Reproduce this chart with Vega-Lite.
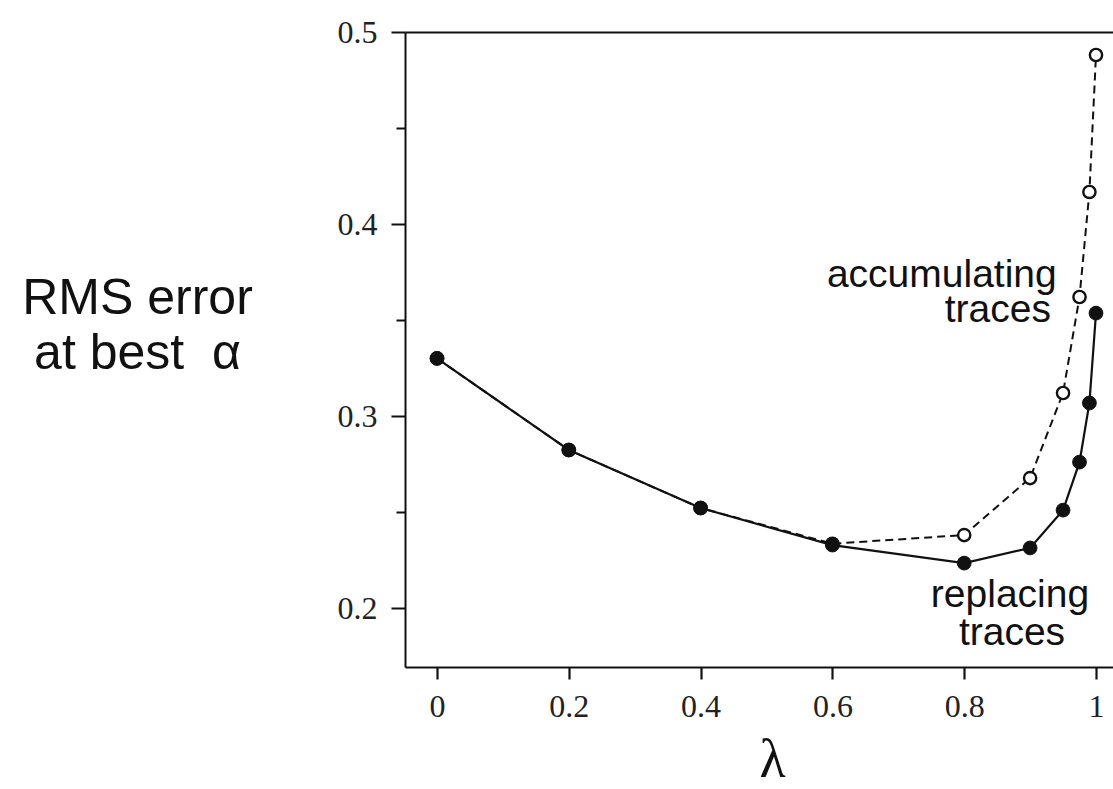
{
  "$schema": "https://vega.github.io/schema/vega-lite/v6.json",
  "width": 708,
  "height": 635,
  "autosize": {"type": "none"},
  "padding": {"left": 405, "top": 32, "right": 0, "bottom": 122},
  "background": "white",
  "config": {
    "view": {"stroke": null},
    "axis": {
      "grid": false,
      "domainColor": "#111",
      "domainWidth": 2,
      "tickColor": "#111",
      "tickWidth": 2,
      "labelColor": "#222",
      "labelFont": "Liberation Serif",
      "labelFontSize": 32,
      "labelFlush": false,
      "labelOverlap": false
    },
    "axisBottom": {"ticks": true, "tickSize": 12, "tickWidth": 2.2, "tickColor": "#111", "tickOpacity": 1}
  },
  "datasets": {
    "series": [
      {"trace": "accumulating", "lambda": 0, "rms": 0.33},
      {"trace": "accumulating", "lambda": 0.2, "rms": 0.2823},
      {"trace": "accumulating", "lambda": 0.4, "rms": 0.2521},
      {"trace": "accumulating", "lambda": 0.6, "rms": 0.2335},
      {"trace": "accumulating", "lambda": 0.8, "rms": 0.238},
      {"trace": "accumulating", "lambda": 0.9, "rms": 0.2677},
      {"trace": "accumulating", "lambda": 0.95, "rms": 0.312},
      {"trace": "accumulating", "lambda": 0.975, "rms": 0.362},
      {"trace": "accumulating", "lambda": 0.99, "rms": 0.4167},
      {"trace": "accumulating", "lambda": 1.0, "rms": 0.488},
      {"trace": "replacing", "lambda": 0, "rms": 0.33},
      {"trace": "replacing", "lambda": 0.2, "rms": 0.2823},
      {"trace": "replacing", "lambda": 0.4, "rms": 0.2521},
      {"trace": "replacing", "lambda": 0.6, "rms": 0.2328},
      {"trace": "replacing", "lambda": 0.8, "rms": 0.2234},
      {"trace": "replacing", "lambda": 0.9, "rms": 0.2313},
      {"trace": "replacing", "lambda": 0.95, "rms": 0.251},
      {"trace": "replacing", "lambda": 0.975, "rms": 0.276},
      {"trace": "replacing", "lambda": 0.99, "rms": 0.3068},
      {"trace": "replacing", "lambda": 1.0, "rms": 0.3536}
    ],
    "labels": [
      {"text": "accumulating", "lambda": 0.766, "rms": 0.3672},
      {"text": "traces", "lambda": 0.851, "rms": 0.349},
      {"text": "replacing", "lambda": 0.8695, "rms": 0.2005},
      {"text": "traces", "lambda": 0.8725, "rms": 0.1807}
    ]
  },
  "layer": [
    {
      "encoding": {
        "x": {
          "field": "lambda",
          "type": "quantitative",
          "scale": {"domain": [-0.0486, 1.0258], "nice": false, "zero": false},
          "axis": null
        },
        "y": {
          "field": "rms",
          "type": "quantitative",
          "scale": {"domain": [0.1693, 0.5], "nice": false, "zero": false},
          "axis": null
        }
      },
      "layer": [
        {
          "data": {"name": "series"},
          "transform": [{"filter": "datum.trace === 'accumulating'"}],
          "mark": {"type": "line", "color": "#111", "strokeWidth": 2, "strokeDash": [8, 5]}
        },
        {
          "data": {"name": "series"},
          "transform": [{"filter": "datum.trace === 'accumulating'"}],
          "mark": {"type": "point", "shape": "circle", "filled": true, "fill": "white", "stroke": "#111", "strokeWidth": 2.4, "size": 150, "opacity": 1}
        },
        {
          "data": {"name": "series"},
          "transform": [{"filter": "datum.trace === 'replacing'"}],
          "mark": {"type": "line", "color": "#111", "strokeWidth": 2.2}
        },
        {
          "data": {"name": "series"},
          "transform": [{"filter": "datum.trace === 'replacing'"}],
          "mark": {"type": "point", "shape": "circle", "filled": true, "fill": "#111", "stroke": "#111", "strokeWidth": 1, "size": 190, "opacity": 1}
        },
        {
          "data": {"name": "labels"},
          "mark": {"type": "text", "font": "Liberation Sans", "fontSize": 39, "align": "center", "baseline": "alphabetic", "color": "#111"},
          "encoding": {"text": {"field": "text"}}
        }
      ]
    },
    {
      "data": {"name": "series"},
      "mark": {"type": "point", "opacity": 0},
      "encoding": {
        "x": {
          "field": "lambda",
          "type": "quantitative",
          "scale": {"domain": [-0.0486, 1.0258], "nice": false, "zero": false},
          "axis": {
            "orient": "bottom",
            "values": [0, 0.2, 0.4, 0.6, 0.8, 1],
            "labelExpr": "'' + datum.value",
            "ticks": true,
            "tickSize": 12,
            "labelPadding": 12,
            "title": "λ",
            "titleFont": "Liberation Serif",
            "titleFontSize": 54,
            "titleFontWeight": "normal",
            "titleColor": "#111",
            "titleAlign": "center",
            "titleBaseline": "alphabetic",
            "titleX": 367,
            "titleY": 109
          }
        },
        "y": {
          "field": "rms",
          "type": "quantitative",
          "scale": {"domain": [0.1693, 0.5], "nice": false, "zero": false},
          "axis": {
            "orient": "left",
            "values": [0.2, 0.3, 0.4, 0.5],
            "labelExpr": "'' + datum.value",
            "tickSize": 14,
            "labelPadding": 14,
            "title": ["RMS error", "at best\u00a0\u00a0α"],
            "titleFont": "Liberation Sans",
            "titleFontSize": 50,
            "titleFontWeight": "normal",
            "titleColor": "#111",
            "titleAngle": 0,
            "titleAlign": "center",
            "titleBaseline": "alphabetic",
            "titleLineHeight": 55,
            "titleX": -268,
            "titleY": 281
          }
        }
      }
    },
    {
      "data": {"name": "series"},
      "mark": {"type": "point", "opacity": 0},
      "encoding": {
        "x": {
          "field": "lambda",
          "type": "quantitative",
          "scale": {"domain": [-0.0486, 1.0258], "nice": false, "zero": false},
          "axis": {"orient": "top", "ticks": false, "labels": false, "title": null, "domain": true}
        },
        "y": {
          "field": "rms",
          "type": "quantitative",
          "scale": {"domain": [0.1693, 0.5], "nice": false, "zero": false},
          "axis": {"orient": "left", "values": [0.25, 0.35, 0.45], "tickSize": 9, "labels": false, "domain": false, "title": null}
        }
      }
    }
  ],
  "resolve": {"scale": {"x": "independent", "y": "independent"}}
}
